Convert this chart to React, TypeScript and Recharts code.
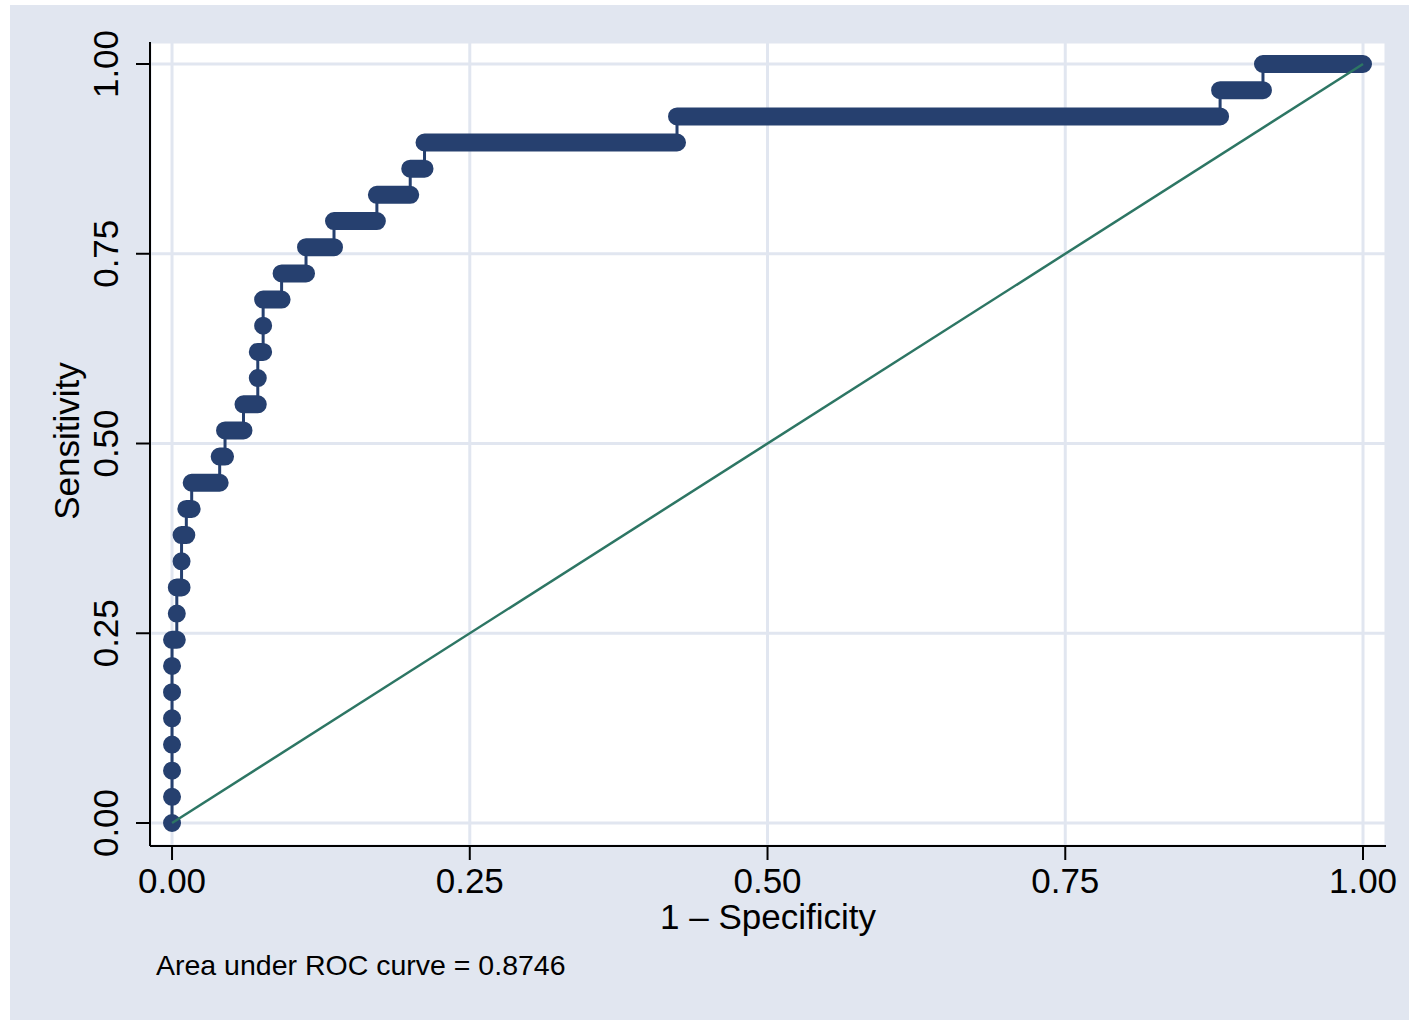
import { ComposedChart, Line, XAxis, YAxis, CartesianGrid } from "recharts";

// sensitivity level of each step of the ROC curve (one per positive case)
const sensitivity = [
  0, 0.0345, 0.069, 0.1034, 0.1379, 0.1724, 0.2069, 0.2414, 0.2759, 0.3103,
  0.3448, 0.3793, 0.4138, 0.4483, 0.4828, 0.5172, 0.5517, 0.5862, 0.6207, 0.6552,
  0.6897, 0.7241, 0.7586, 0.7931, 0.8276, 0.8621, 0.8966, 0.931, 0.9655, 1,
];
// 1 - specificity where each step starts and ends
const fprFrom = [
  0, 0, 0, 0, 0, 0, 0, 0, 0.004, 0.004,
  0.008, 0.008, 0.012, 0.0165, 0.04, 0.0445, 0.06, 0.072, 0.072, 0.0765,
  0.0765, 0.092, 0.1125, 0.136, 0.172, 0.2, 0.212, 0.424, 0.88, 0.916,
];
const fprTo = [
  0, 0, 0, 0, 0, 0, 0, 0.004, 0.004, 0.008,
  0.008, 0.012, 0.0165, 0.04, 0.0445, 0.06, 0.072, 0.072, 0.0765, 0.0765,
  0.092, 0.1125, 0.136, 0.172, 0.2, 0.212, 0.424, 0.88, 0.916, 1,
];
const xTicks = [0, 0.25, 0.5, 0.75, 1];
const yTicks = [0, 0.25, 0.5, 0.75, 1];
const areaUnderCurve = "0.8746";

const pathData = sensitivity.flatMap((s, i) => [
  { fpr: fprFrom[i], sens: s },
  { fpr: fprTo[i], sens: s },
]);
const runData = sensitivity.flatMap((s, i) => [
  { fpr: fprFrom[i], sens: s },
  { fpr: fprTo[i], sens: s },
  { fpr: fprTo[i], sens: null },
]);
const refData = [
  { fpr: 0, sens: 0 },
  { fpr: 1, sens: 1 },
];

const NAVY = "#26406f";
const GREEN = "#2d7664";
const BG = "#e1e6f0";
const FONT = "'Liberation Sans', Arial, sans-serif";

const XTick = (props: any) => (
  <text x={props.x} y={893} textAnchor="middle" fontSize={35} fontFamily={FONT} fill="#000">
    {Number(props.payload.value).toFixed(2)}
  </text>
);

const YTick = (props: any) => (
  <text
    x={118}
    y={props.y}
    transform={`rotate(-90, 118, ${props.y})`}
    textAnchor="middle"
    fontSize={35}
    fontFamily={FONT}
    fill="#000"
  >
    {Number(props.payload.value).toFixed(2)}
  </text>
);

export default function App() {
  return (
    <div style={{ position: "relative", width: 1409, height: 1020, background: "#fff", overflow: "hidden" }}>
      <style>{"body{margin:0}"}</style>
      <div style={{ position: "absolute", left: 10, top: 5, width: 1399, height: 1015, background: BG }} />
      <div style={{ position: "absolute", left: 0, top: 0 }}>
        <ComposedChart width={1409} height={1020} margin={{ top: 42, right: 23, bottom: 114, left: 90 }}>
          <CartesianGrid fill="#fff" stroke={BG} strokeWidth={3} />
          <XAxis
            type="number"
            dataKey="fpr"
            domain={[-0.0185, 1.0193]}
            ticks={xTicks}
            allowDataOverflow
            height={60}
            tickSize={14}
            tick={<XTick />}
            axisLine={{ stroke: "#000", strokeWidth: 2 }}
            tickLine={{ stroke: "#000", strokeWidth: 2 }}
          />
          <YAxis
            type="number"
            dataKey="sens"
            domain={[-0.0303, 1.029]}
            ticks={yTicks}
            allowDataOverflow
            width={60}
            tickSize={14}
            tick={<YTick />}
            axisLine={{ stroke: "#000", strokeWidth: 2 }}
            tickLine={{ stroke: "#000", strokeWidth: 2 }}
          />
          <Line
            data={pathData}
            dataKey="sens"
            type="linear"
            stroke={NAVY}
            strokeWidth={3}
            dot={false}
            activeDot={false}
            isAnimationActive={false}
          />
          <Line
            data={runData}
            dataKey="sens"
            type="linear"
            stroke={NAVY}
            strokeWidth={18}
            strokeLinecap="round"
            connectNulls={false}
            dot={false}
            activeDot={false}
            isAnimationActive={false}
          />
          <Line
            data={refData}
            dataKey="sens"
            type="linear"
            stroke={GREEN}
            strokeWidth={2.5}
            dot={false}
            activeDot={false}
            isAnimationActive={false}
          />
        </ComposedChart>
      </div>
      <svg width={1409} height={1020} style={{ position: "absolute", left: 0, top: 0, pointerEvents: "none" }}>
        <text x={768} y={929} textAnchor="middle" fontSize={35} fontFamily={FONT} fill="#000">
          1 – Specificity
        </text>
        <text x={79} y={441} transform="rotate(-90, 79, 441)" textAnchor="middle" fontSize={35} fontFamily={FONT} fill="#000">
          Sensitivity
        </text>
        <text x={156} y={975} fontSize={28.5} fontFamily={FONT} fill="#000">
          Area under ROC curve = {areaUnderCurve}
        </text>
      </svg>
    </div>
  );
}
